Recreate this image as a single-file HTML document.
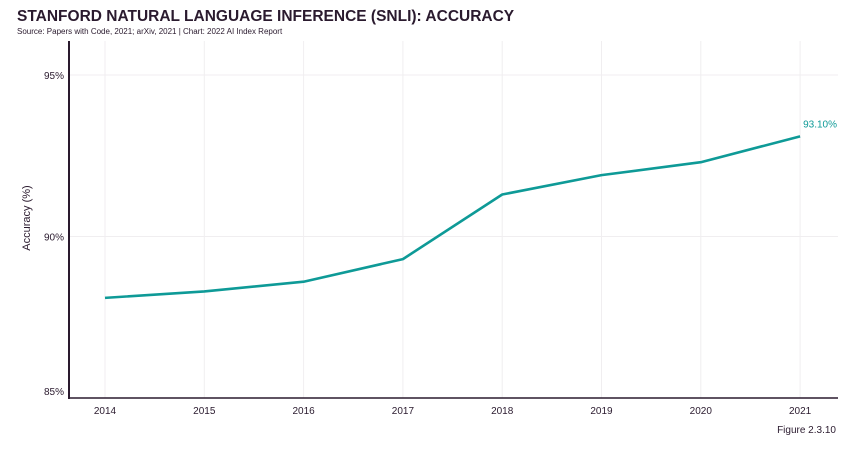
<!DOCTYPE html>
<html><head><meta charset="utf-8"><style>
body{margin:0;background:#fff;width:854px;height:451px;overflow:hidden;font-family:"Liberation Sans",sans-serif;}
</style></head><body>
<svg width="854" height="451">
<text x="17" y="21" font-size="15.5" font-weight="bold" fill="#2a1a2e">STANFORD NATURAL LANGUAGE INFERENCE (SNLI): ACCURACY</text>
<text x="17" y="34" font-size="8" fill="#2a1a2e">Source: Papers with Code, 2021; arXiv, 2021 | Chart: 2022 AI Index Report</text>
<g id="grid"></g>
<g id="axes"></g>
<g id="marks"></g>
<text x="30" y="218" font-size="11" fill="#2a1a2e" text-anchor="middle" transform="rotate(-90 30 218)">Accuracy (%)</text>
<text x="836" y="433" font-size="10" fill="#2a1a2e" text-anchor="end">Figure 2.3.10</text>
</svg>
<script>
const years=[2014,2015,2016,2017,2018,2019,2020,2021];
const accuracy=[88.1,88.3,88.6,89.3,91.3,91.9,92.3,93.1];
const yTicks=[85,90,95];
const lastLabel="93.10%";
const NS="http://www.w3.org/2000/svg";
const x=i=>105+i*99.3;
const y=v=>398-(v-85)*32.3;
function mk(t,a,p){const e=document.createElementNS(NS,t);for(const k in a)e.setAttribute(k,a[k]);p.appendChild(e);return e;}
const grid=document.getElementById('grid'),axes=document.getElementById('axes'),marks=document.getElementById('marks');
years.forEach((yr,i)=>{
 const g=mk('line',{x1:x(i),x2:x(i),y1:41,y2:398,stroke:'#f0eef0','stroke-width':1},grid);
 
 
 const t=mk('text',{x:x(i),y:414,'font-size':10,fill:'#2a1a2e','text-anchor':'middle'},axes);
 t.textContent=yr;
 
 
});
yTicks.forEach(v=>{
 if(v>85){const g=mk('line',{x1:69,x2:838,y1:y(v),y2:y(v),stroke:'#f0eef0','stroke-width':1},grid);
 
 }
 const ty=v===85?395:y(v)+4;
 const t=mk('text',{x:64,y:ty,'font-size':10,fill:'#2a1a2e','text-anchor':'end'},axes);
 t.textContent=v+'%';
 
 
});
const ya=mk('line',{x1:69,x2:69,y1:41,y2:399,stroke:'#2a1a2e','stroke-width':2},axes);


const xa=mk('line',{x1:68,x2:838,y1:398,y2:398,stroke:'#2a1a2e','stroke-width':1.5},axes);


const pl=mk('polyline',{points:accuracy.map((v,i)=>x(i)+','+y(v)).join(' '),fill:'none',stroke:'#0e9a97','stroke-width':2.6,'stroke-linejoin':'round'},marks);


const n=accuracy.length-1;
const lb=mk('text',{x:x(n)+3,y:y(accuracy[n])-9,'font-size':10,fill:'#0e9a97','text-anchor':'start'},marks);
lb.textContent=lastLabel;


</script>
</body></html>
